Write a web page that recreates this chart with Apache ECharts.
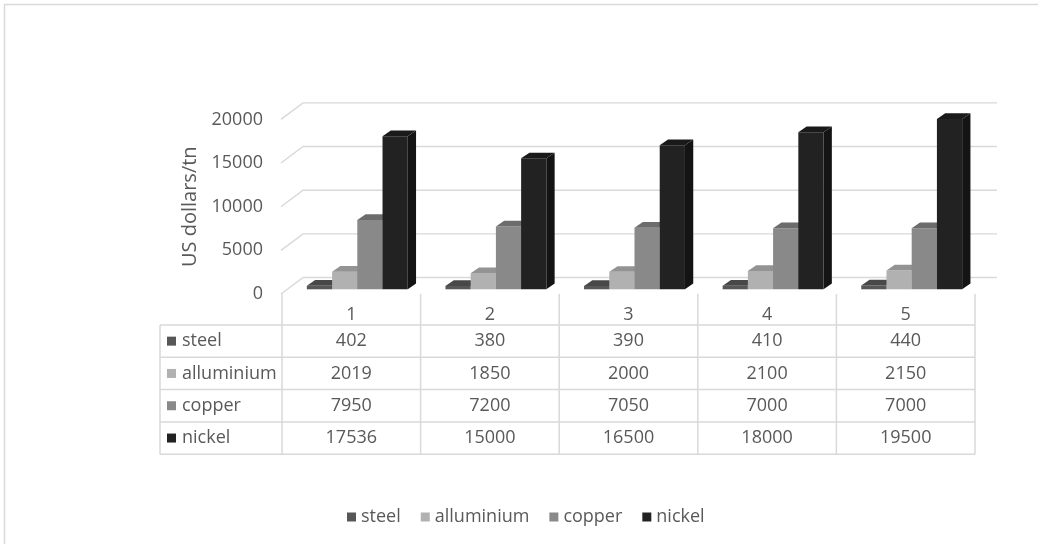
<!DOCTYPE html>
<html>
<head>
<meta charset="utf-8">
<script src="https://cdn.jsdelivr.net/npm/echarts@6/dist/echarts.min.js"></script>
<style>
  html, body { margin: 0; padding: 0; background: #ffffff; }
  #chart { width: 1038px; height: 544px; }
</style>
</head>
<body>
<div id="chart"></div>
<script>
// Metal prices (US dollars per tonne) for five periods
const categories = ['1', '2', '3', '4', '5'];
const seriesNames = ['steel', 'alluminium', 'copper', 'nickel'];
const steel = [402, 380, 390, 410, 440];
const alluminium = [2019, 1850, 2000, 2100, 2150];
const copper = [7950, 7200, 7050, 7000, 7000];
const nickel = [17536, 15000, 16500, 18000, 19500];
const yTicks = [0, 5000, 10000, 15000, 20000];

const FONT = '"Open Sans", "Liberation Sans", sans-serif';
const TEXT = '#595959';
const LINE = '#d9d9d9';
const FS = 18;

// face shades per metal: front, top, side
const shades = {
  steel:      { front: '#575757', top: '#484848', side: '#3e3e3e' },
  alluminium: { front: '#b1b1b1', top: '#939393', side: '#8a8a8a' },
  copper:     { front: '#898989', top: '#6c6c6c', side: '#626262' },
  nickel:     { front: '#222222', top: '#1a1a1a', side: '#141414' }
};
const values = { steel, alluminium, copper, nickel };

// projection of the depth axis
const DEPTH = [22, -16.5];        // floor front edge -> back wall
const BAR_FRONT = [6, -4.7];      // bar front face sits this far into the floor
const BAR_DEPTH = [8.3, -5.7];    // thickness of each column

function wallRender(params, api) {
  const cs = params.coordSys;
  const y = api.coord([0, api.value(1)])[1];
  const x0 = cs.x, x1 = cs.x + cs.width;
  return {
    type: 'polyline',
    shape: { points: [[x0 - 1, y], [x0 + DEPTH[0] - 1, y + DEPTH[1]], [x1 + DEPTH[0], y + DEPTH[1]]] },
    style: { stroke: LINE, lineWidth: 1.4, fill: null }
  };
}

function barRender(name, idx) {
  const sh = shades[name];
  return function (params, api) {
    const cat = api.value(0);
    const cw = api.size([1, 0])[0];
    const base = api.coord([cat, 0]);
    const top = api.coord([cat, api.value(1)]);
    const bw = cw * 0.182;
    const x0 = base[0] - 2 * bw + idx * bw + BAR_FRONT[0];
    const x1 = x0 + bw;
    const yb = base[1] + BAR_FRONT[1];
    const yt = top[1] + BAR_FRONT[1];
    const dx = BAR_DEPTH[0], dy = BAR_DEPTH[1];
    return {
      type: 'group',
      children: [
        { type: 'polygon', shape: { points: [[x1, yt], [x1 + dx, yt + dy], [x1 + dx, yb + dy], [x1, yb]] },
          style: { fill: sh.side } },
        { type: 'rect', shape: { x: x0, y: yt, width: bw, height: yb - yt },
          style: { fill: sh.front } },
        { type: 'polygon', shape: { points: [[x0, yt], [x0 + dx, yt + dy], [x1 + dx, yt + dy], [x1, yt]] },
          style: { fill: sh.top } }
      ]
    };
  };
}

// data table underneath the plot, one column per category
const TABLE_LEFT = 160;
const HEADER_H = 31;
const ROW_H = 32.3;

function tableRender(params, api) {
  const cs = params.coordSys;
  const i = api.value(0);
  const cw = api.size([1, 0])[0];
  const cx = api.coord([i, 0])[0];
  const y0 = cs.y + cs.height;
  const rowTop = y0 + HEADER_H;
  const bottom = rowTop + ROW_H * seriesNames.length;
  const line = (x1, y1, x2, y2) => ({
    type: 'line', shape: { x1, y1, x2, y2 }, style: { stroke: LINE, lineWidth: 1.5 }
  });
  const children = [line(cx + cw / 2, y0, cx + cw / 2, bottom)];
  seriesNames.forEach((n, r) => {
    children.push({
      type: 'text',
      style: { text: String(values[n][i]), x: cx, y: rowTop + ROW_H * (r + 0.5),
               align: 'center', verticalAlign: 'middle', fill: TEXT, font: FS + 'px ' + FONT }
    });
  });
  if (i === 0) {
    children.push(line(cs.x, y0, cs.x, bottom));
    children.push(line(TABLE_LEFT, rowTop, TABLE_LEFT, bottom));
    for (let r = 0; r <= seriesNames.length; r++) {
      const y = rowTop + ROW_H * r;
      children.push(line(TABLE_LEFT, y, cs.x + cs.width, y));
    }
    seriesNames.forEach((n, r) => {
      const yc = rowTop + ROW_H * (r + 0.5);
      children.push({ type: 'rect', shape: { x: TABLE_LEFT + 7, y: yc - 4.5, width: 9, height: 9 },
                      style: { fill: shades[n].front } });
      children.push({ type: 'text',
        style: { text: n, x: TABLE_LEFT + 22, y: yc, align: 'left', verticalAlign: 'middle',
                 fill: TEXT, font: FS + 'px ' + FONT } });
    });
  }
  return { type: 'group', children };
}

const chart = echarts.init(document.getElementById('chart'), null, { renderer: 'canvas' });

const series = [
  {
    name: 'wall', type: 'custom', silent: true, z: 1,
    data: yTicks.map(v => [0, v]),
    renderItem: wallRender
  }
];
seriesNames.forEach((n, idx) => {
  series.push({
    name: n, type: 'custom', z: 3,
    itemStyle: { color: shades[n].front },
    data: values[n].map((v, i) => [i, v]),
    renderItem: barRender(n, idx)
  });
});
series.push({
  name: 'table', type: 'custom', silent: true, z: 2,
  data: categories.map((c, i) => [i, 0]),
  renderItem: tableRender
});

chart.setOption({
  backgroundColor: '#ffffff',
  animation: false,
  graphic: [{
    type: 'rect', silent: true,
    shape: { x: 4.5, y: 4.5, width: 1100, height: 600 },
    style: { fill: null, stroke: LINE, lineWidth: 1.5 }
  }],
  grid: { left: 282, right: 63, top: 119.4, bottom: 250 },
  xAxis: {
    type: 'category', data: categories,
    axisLine: { show: false }, axisTick: { show: false }, splitLine: { show: false },
    axisLabel: { margin: 12, color: TEXT, fontSize: FS, fontFamily: FONT }
  },
  yAxis: {
    type: 'value', min: 0, max: 20000, interval: 5000,
    name: 'US dollars/tn', nameLocation: 'middle', nameGap: 73, nameRotate: 90,
    nameTextStyle: { color: TEXT, fontSize: 20, fontFamily: FONT },
    axisLine: { show: false }, axisTick: { show: false }, splitLine: { show: false },
    axisLabel: { margin: 19, color: TEXT, fontSize: FS, fontFamily: FONT,
                 padding: [4, 0, 0, 0], formatter: v => String(v) }
  },
  legend: {
    data: seriesNames, left: 342, top: 503,
    icon: 'rect', itemWidth: 9, itemHeight: 9, itemGap: 20,
    textStyle: { color: TEXT, fontSize: FS, fontFamily: FONT },
    selectedMode: false
  },
  series
});
</script>
</body>
</html>
